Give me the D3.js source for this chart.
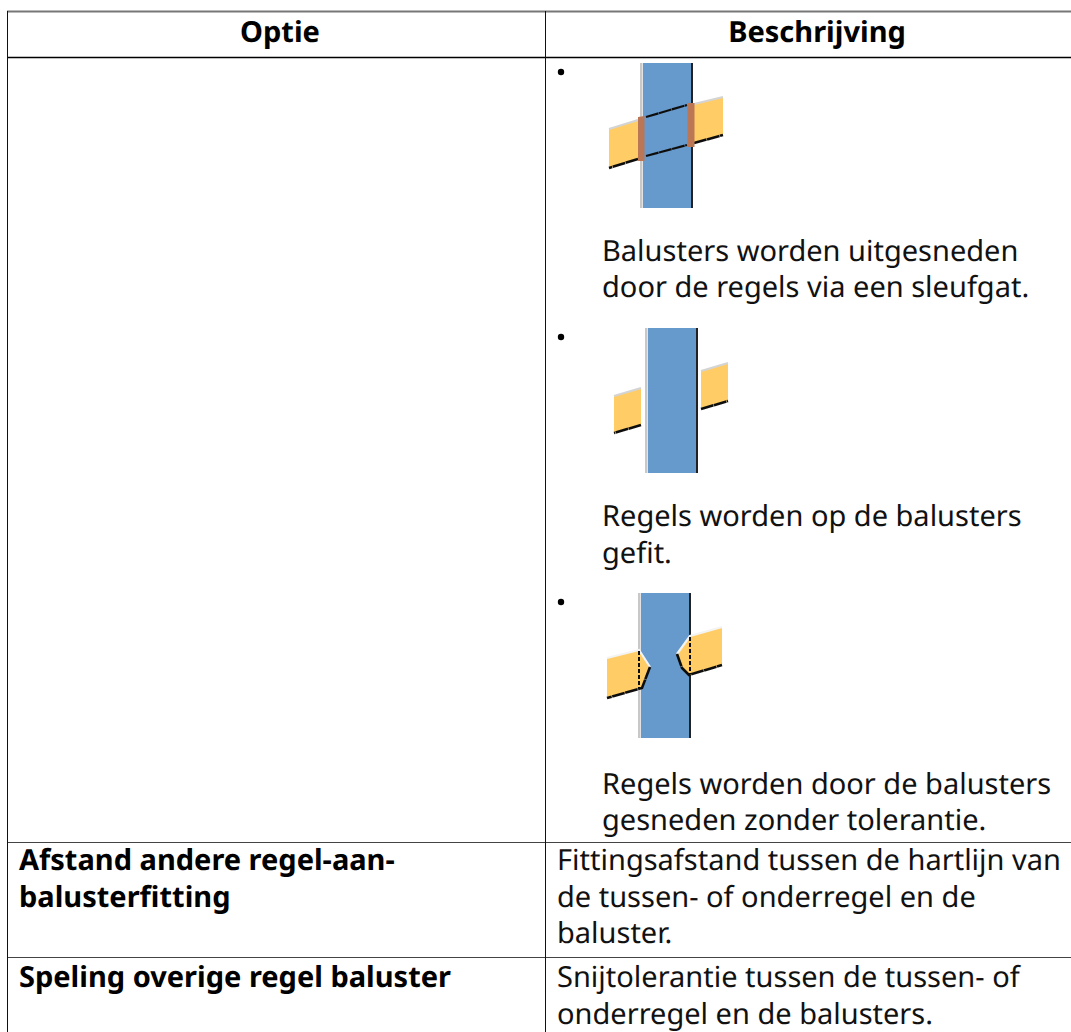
<!DOCTYPE html>
<html>
<head>
<meta charset="utf-8">
<script src="https://cdn.jsdelivr.net/npm/d3@7"></script>
<style>
  html, body { margin: 0; padding: 0; background: #fff; }
  svg { display: block; }
  text { font-family: "Noto Sans", sans-serif; font-size: 29px; fill: #111; text-rendering: geometricPrecision; }
  .bold { font-weight: 700; fill: #000; }
</style>
</head>
<body>
<svg id="chart"></svg>
<script>
// table content
const headers = ['Optie', 'Beschrijving'];
const captions = [
  ['Balusters worden uitgesneden', 'door de regels via een sleufgat.'],
  ['Regels worden op de balusters', 'gefit.'],
  ['Regels worden door de balusters', 'gesneden zonder tolerantie.']
];
const rowLabels = [
  ['Afstand andere regel-aan-', 'balusterfitting'],
  ['Speling overige regel baluster']
];
const rowTexts = [
  ['Fittingsafstand tussen de hartlijn van', 'de tussen- of onderregel en de', 'baluster.'],
  ['Snijtolerantie tussen de tussen- of', 'onderregel en de balusters.']
];

// the three baluster sketches, in sketch units
const postSpans = [[98, 146], [103, 151], [96, 144]];
const railsLeft = [
  [[64, 74], [93, 65], [93, 104], [64, 113]],
  [[69, 76], [96, 68], [96, 105], [69, 113]],
  [[62, 73], [94, 65], [105, 82], [97, 103], [62, 113]]
];
const railsRight = [
  [[178, 42], [149, 49], [149, 88], [178, 80]],
  [[183, 43], [156, 51], [156, 89], [183, 81]],
  [[177, 42], [145, 51], [132, 69], [137, 83], [144, 90], [177, 80]]
];
// rails seen through the baluster in the first sketch
const slotBars = [
  [[93, 62], [99.5, 61], [99.5, 106], [93, 106]],
  [[142.5, 48], [149.5, 48], [149.5, 92], [142.5, 92]]
];
const slotEdges = [
  [[101, 62], [142, 50]],
  [[101, 101], [142, 90]]
];
// fitting lines behind the cut in the third sketch
const cutLines = [
  [[94, 66], [94, 103]],
  [[145, 52], [145, 89]]
];

const width = 1071, height = 1032;
const leftX = 7, midX = 545;
const lineH = 36.5;

const svg = d3.select('#chart').attr('width', width).attr('height', height);

// grid
const rules = [
  {y: 11, w: 2, c: '#777'},
  {y: 57, w: 1.4, c: '#000'},
  {y: 842, w: 1.2, c: '#444'},
  {y: 957, w: 1.2, c: '#444'}
];
svg.append('g').selectAll('line').data(rules).join('line')
  .attr('x1', leftX).attr('x2', width)
  .attr('y1', d => d.y + .5).attr('y2', d => d.y + .5)
  .attr('stroke', d => d.c).attr('stroke-width', d => d.w);
svg.append('g').selectAll('line').data([leftX, midX]).join('line')
  .attr('x1', d => d + .5).attr('x2', d => d + .5)
  .attr('y1', 11).attr('y2', height)
  .attr('stroke', '#111').attr('stroke-width', 1);

// header
svg.append('g').selectAll('text').data(headers).join('text')
  .attr('class', 'bold')
  .attr('text-anchor', 'middle')
  .attr('x', (d, i) => [280, 817][i])
  .attr('y', 42)
  .text(d => d);

// sketches
const sx = d3.scaleLinear().domain([0, 220]).range([545, 765]);
const sketchTop = [55, 320, 585];
svg.append('defs').append('filter').attr('id', 'soft')
  .append('feGaussianBlur').attr('stdDeviation', .5);

postSpans.forEach((span, i) => {
  const sy = d3.scaleLinear().domain([0, 165]).range([sketchTop[i], sketchTop[i] + 165]);
  const g = svg.append('g').attr('filter', 'url(#soft)');
  const toPx = pts => pts.map(p => [sx(p[0]), sy(p[1])]);
  const line = d3.line();

  g.append('rect')
    .attr('x', sx(span[0])).attr('width', sx(span[1]) - sx(span[0]))
    .attr('y', sy(8)).attr('height', sy(153) - sy(8))
    .attr('fill', '#6699cc');
  g.append('rect')
    .attr('x', sx(span[0] - 3)).attr('width', 2.5)
    .attr('y', sy(8)).attr('height', sy(153) - sy(8))
    .attr('fill', '#c8c8c8');
  g.append('rect')
    .attr('x', sx(span[1])).attr('width', 2)
    .attr('y', sy(8)).attr('height', sy(153) - sy(8))
    .attr('fill', '#222');

  // yellow rails, light top edge and dark bottom edge
  const topEnd = i === 2 ? 3 : 2;
  [railsLeft[i], railsRight[i]].forEach(r => {
    g.append('path').attr('d', line(toPx(r)) + 'Z').attr('fill', '#ffcc66');
    g.append('path').attr('d', line(toPx(r.slice(0, topEnd))))
      .attr('stroke', i === 2 ? '#f4f4f4' : '#d4d4d4').attr('stroke-width', 2.2).attr('fill', 'none');
    g.append('path').attr('d', line(toPx(r.slice(2))))
      .attr('stroke', '#111').attr('stroke-width', 2.6).attr('fill', 'none')
      .attr('stroke-dasharray', '13 .5');
  });

  if (i === 0) {
    slotBars.forEach(b => {
      g.append('path').attr('d', line(toPx(b)) + 'Z').attr('fill', '#bb7755');
    });
    slotEdges.forEach(e => {
      g.append('path').attr('d', line(toPx(e)))
        .attr('stroke', '#111').attr('stroke-width', 2.2).attr('fill', 'none')
        .attr('stroke-dasharray', '13 .5');
    });
  }
  if (i === 2) {
    cutLines.forEach(e => {
      g.append('path').attr('d', line(toPx(e)))
        .attr('stroke', '#111').attr('stroke-width', 2).attr('fill', 'none')
        .attr('stroke-dasharray', '4 2');
    });
  }
});

// bullets
svg.append('g').selectAll('circle').data(sketchTop).join('circle')
  .attr('cx', 561).attr('cy', d => d + 17).attr('r', 3.2).attr('fill', '#000');

// captions
const captionY = [260.5, 526, 793.5];
svg.append('g').selectAll('g').data(captions).join('g')
  .each(function (lines, i) {
    d3.select(this).selectAll('text').data(lines).join('text')
      .attr('x', 602)
      .attr('y', (d, j) => captionY[i] + j * lineH)
      .text(d => d);
  });

// lower rows
const rowBase = [870, 987];
rowLabels.forEach((lines, i) => {
  svg.append('g').selectAll('text').data(lines).join('text')
    .attr('class', 'bold').attr('x', 19)
    .attr('y', (d, j) => rowBase[i] + j * lineH).text(d => d);
  svg.append('g').selectAll('text').data(rowTexts[i]).join('text')
    .attr('x', 557)
    .attr('y', (d, j) => rowBase[i] + j * lineH).text(d => d);
});
</script>
</body>
</html>
